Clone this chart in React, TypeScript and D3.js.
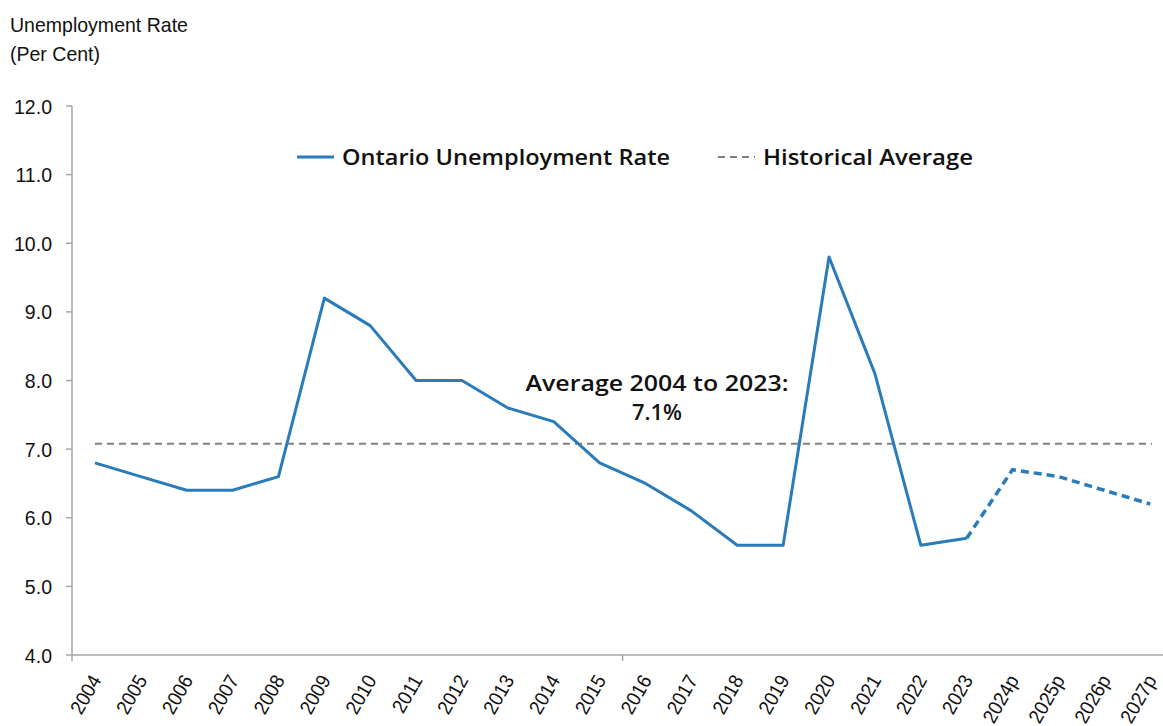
import React from "react";
import * as d3 from "d3";

const categories = ["2004","2005","2006","2007","2008","2009","2010","2011","2012","2013","2014","2015","2016","2017","2018","2019","2020","2021","2022","2023","2024p","2025p","2026p","2027p"];
const rates = [6.8,6.6,6.4,6.4,6.6,9.2,8.8,8.0,8.0,7.6,7.4,6.8,6.5,6.1,5.6,5.6,9.8,8.1,5.6,5.7,6.7,6.6,6.4,6.2];
const historicalAverage = 7.08;
const yTicks = [4,5,6,7,8,9,10,11,12];
const lastActual = "2023";
const seriesName = "Ontario Unemployment Rate";
const averageName = "Historical Average";
const annotationLines = ["Average 2004 to 2023:", "7.1%"];

const W = 1163, H = 726;
const axisFont = "'Liberation Sans',Arial,sans-serif";
const labelFont = "'Open Sans',Lato,sans-serif";
const SX = 0.93;

export default function App() {
  const left = 72;
  const band = 45.88;
  const x = d3.scaleBand<string>().domain(categories).range([left, left + band * categories.length]);
  const cx = (c: string) => (x(c) as number) + x.bandwidth() / 2;
  const y = d3.scaleLinear().domain([4, 12]).range([655, 106]);

  const pts = categories.map((c, i) => ({ c, v: rates[i] }));
  const idx = categories.indexOf(lastActual);
  const line = d3.line<{ c: string; v: number }>().x(d => cx(d.c)).y(d => y(d.v));
  const solid = line(pts.slice(0, idx + 1)) || "";
  const dashed = line(pts.slice(idx)) || "";
  const axisColor = "#A6A6A6";
  const blue = "#2A7BBA";
  const majorTicks = [0, 12, 24].map(k => left + k * band);

  return (
    <div style={{ position: "absolute", left: 0, top: 0 }}>
      <svg width={W} height={H} style={{ display: "block", background: "#fff" }}>
        <text transform={`translate(10,32) scale(${SX},1)`} fontFamily={axisFont} fontSize={21} fill="#111">Unemployment Rate</text>
        <text transform={`translate(10,61) scale(${SX},1)`} fontFamily={axisFont} fontSize={21} fill="#111">(Per Cent)</text>

        {/* y axis */}
        <line x1={left} x2={left} y1={y(12)} y2={y(4)} stroke={axisColor} strokeWidth={1.5} />
        {yTicks.map(t => (
          <g key={t}>
            <line x1={left - 6} x2={left} y1={y(t)} y2={y(t)} stroke={axisColor} strokeWidth={1.5} />
            <text transform={`translate(52,${y(t)}) scale(${SX},1)`} dy="0.36em" textAnchor="end" fontFamily={axisFont} fontSize={21} fill="#111">{t.toFixed(1)}</text>
          </g>
        ))}

        {/* x axis */}
        <line x1={left} x2={W} y1={y(4)} y2={y(4)} stroke={axisColor} strokeWidth={1.5} />
        {majorTicks.map((t, i) => (
          <line key={i} x1={t} x2={t} y1={y(4)} y2={y(4) + 6} stroke={axisColor} strokeWidth={1.5} />
        ))}
        {categories.map(c => (
          <text key={c} transform={`translate(${cx(c) + 7},${680}) rotate(-60) scale(${SX},1)`} textAnchor="end"
            fontFamily={axisFont} fontSize={20} fill="#111">{c}</text>
        ))}

        {/* average */}
        <line x1={cx(categories[0])} x2={1152} y1={y(historicalAverage)} y2={y(historicalAverage)}
          stroke="#808080" strokeWidth={2} strokeDasharray="7,5" />

        {/* series */}
        <path d={solid} fill="none" stroke={blue} strokeWidth={3} strokeLinejoin="round" />
        <path d={dashed} fill="none" stroke={blue} strokeWidth={3.5} strokeDasharray="8,5" />

        {/* annotation */}
        <text x={657} y={391} textAnchor="middle" fontFamily={labelFont} fontWeight={600} fontSize={21}
          textLength={263} lengthAdjust="spacingAndGlyphs" fill="#111">{annotationLines[0]}</text>
        <text x={657} y={420} textAnchor="middle" fontFamily={labelFont} fontWeight={600} fontSize={21}
          textLength={50} lengthAdjust="spacingAndGlyphs" fill="#111">{annotationLines[1]}</text>

        {/* legend */}
        <line x1={297} x2={334} y1={157} y2={157} stroke={blue} strokeWidth={3} />
        <text x={342} y={157} dy="0.36em" fontFamily={labelFont} fontWeight={600} fontSize={21}
          textLength={328} lengthAdjust="spacingAndGlyphs" fill="#111">{seriesName}</text>
        <line x1={718} x2={755} y1={157} y2={157} stroke="#808080" strokeWidth={2} strokeDasharray="7,5" />
        <text x={763} y={157} dy="0.36em" fontFamily={labelFont} fontWeight={600} fontSize={21}
          textLength={210} lengthAdjust="spacingAndGlyphs" fill="#111">{averageName}</text>
      </svg>
    </div>
  );
}
